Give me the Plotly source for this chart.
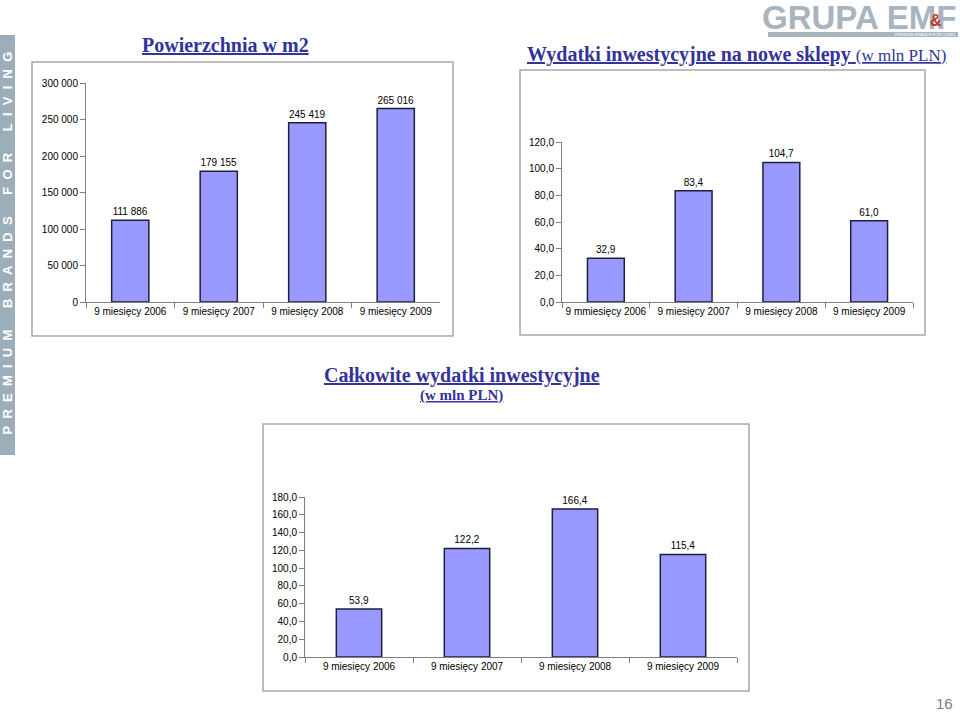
import plotly.graph_objects as go

W, H = 960, 712

# dane
okresy = ["9 miesięcy 2006", "9 miesięcy 2007", "9 miesięcy 2008", "9 miesięcy 2009"]
okresy_sklepy = ["9 mmiesięcy 2006", "9 miesięcy 2007", "9 miesięcy 2008", "9 miesięcy 2009"]
powierzchnia = [111886, 179155, 245419, 265016]
wydatki_sklepy = [32.9, 83.4, 104.7, 61.0]
wydatki_calkowite = [53.9, 122.2, 166.4, 115.4]

BAR_FILL = "#9999FF"
BAR_LINE = "#1F1F40"
TITLE_COL = "#333399"
FONT = "Liberation Sans"


def px_x(x):
    return x / W


def px_y(y):
    return 1 - y / H


fig = go.Figure()

wykresy = [
    # (kategorie, wartości, etykiety, osie, domena x px, domena y px, max, krok, format)
    (okresy, powierzchnia, "%{y:,.0f}", "x", "y", (86, 440), (302, 83), 300000, 50000, ",.0f"),
    (okresy_sklepy, wydatki_sklepy, "%{y:.1f}", "x2", "y2", (562, 913), (302, 142), 120, 20, ".1f"),
    (okresy, wydatki_calkowite, "%{y:.1f}", "x3", "y3", (305, 737), (657, 497), 180, 20, ".1f"),
]

for i, (kat, vals, tmpl, xa, ya, dx, dy, ymax, dtick, fmt) in enumerate(wykresy):
    fig.add_trace(go.Bar(
        x=kat, y=vals, xaxis=xa, yaxis=ya, width=0.42,
        marker=dict(color=BAR_FILL, line=dict(color=BAR_LINE, width=1.5)),
        texttemplate=tmpl, textposition="outside", cliponaxis=False,
        textfont=dict(family=FONT, size=10, color="#000"),
        hoverinfo="skip", showlegend=False,
    ))
    sfx = "" if i == 0 else str(i + 1)
    fig.layout["xaxis" + sfx] = dict(
        domain=[px_x(dx[0]), px_x(dx[1])], anchor="y" + sfx,
        showline=True, linecolor="#808080", linewidth=1,
        ticks="outside", tickson="boundaries", ticklen=5, tickcolor="#808080",
        tickfont=dict(family=FONT, size=10, color="#000"), tickangle=0,
        showgrid=False, fixedrange=True, automargin=False,
    )
    fig.layout["yaxis" + sfx] = dict(
        domain=[px_y(dy[0]), px_y(dy[1])], anchor="x" + sfx,
        range=[0, ymax], dtick=dtick, tickformat=fmt,
        showline=True, linecolor="#808080", linewidth=1,
        ticks="outside", ticklen=5, tickcolor="#808080",
        tickfont=dict(family=FONT, size=10, color="#000"),
        showgrid=False, zeroline=False, fixedrange=True, automargin=False,
    )

# ramki wykresów
for x0, y0, x1, y1 in [(32, 62, 453, 336), (520, 70, 925, 335), (263, 424, 749, 691)]:
    fig.add_shape(type="rect", xref="paper", yref="paper",
                  x0=px_x(x0), y0=px_y(y1), x1=px_x(x1), y1=px_y(y0),
                  line=dict(color="#A8A8A8", width=1.5), fillcolor="rgba(0,0,0,0)",
                  layer="below")

# tytuły
def tytul(x, y, text, size):
    fig.add_annotation(xref="paper", yref="paper", x=px_x(x), y=px_y(y),
                       text=text, showarrow=False, xanchor="center", yanchor="middle",
                       font=dict(family="Liberation Serif", size=size, color=TITLE_COL))

tytul(225, 45, "<u><b>Powierzchnia w m2</b></u>", 20)
tytul(736, 54, "<u><b>Wydatki inwestycyjne na nowe sklepy</b> <span style='font-size:17px'>(w mln PLN)</span></u>", 20)
tytul(462, 375, "<u><b>Całkowite wydatki inwestycyjne</b></u>", 20)
tytul(461, 395, "<u><b>(w mln PLN)</b></u>", 15)

# pasek boczny
fig.add_shape(type="rect", xref="paper", yref="paper",
              x0=0, x1=px_x(15), y0=px_y(455), y1=px_y(35),
              line=dict(width=0), fillcolor="#9DAEBB", layer="below")
sp = "\u00a0\u00a0"
napis = ("\u00a0" * 6).join(sp.join(w) for w in ["PREMIUM", "BRANDS", "FOR", "LIVING"])
fig.add_annotation(xref="paper", yref="paper", x=px_x(7.5), y=px_y(243),
                   text="<b>" + napis + "</b>", textangle=-90, showarrow=False,
                   xanchor="center", yanchor="middle",
                   font=dict(family=FONT, size=13, color="white"))

# logo
fig.add_annotation(xref="paper", yref="paper", x=px_x(958), y=px_y(-3),
                   text="<b>GRUPA EMF</b>", showarrow=False, xanchor="right", yanchor="top",
                   font=dict(family=FONT, size=33, color="#AAB4BE"))
fig.add_annotation(xref="paper", yref="paper", x=px_x(936), y=px_y(21),
                   text="<b>&amp;</b>", showarrow=False, xanchor="center", yanchor="middle",
                   font=dict(family=FONT, size=16, color="#C0392B"))
fig.add_shape(type="rect", xref="paper", yref="paper",
              x0=px_x(768), x1=px_x(958), y0=px_y(37), y1=px_y(32),
              line=dict(width=0), fillcolor="#AAB4BE")
fig.add_annotation(xref="paper", yref="paper", x=px_x(957), y=px_y(34.5),
                   text="PREMIUM BRANDS FOR LIVING", showarrow=False, xanchor="right", yanchor="middle",
                   font=dict(family=FONT, size=4, color="white"))

# numer strony
fig.add_annotation(xref="paper", yref="paper", x=px_x(944), y=px_y(703),
                   text="16", showarrow=False, xanchor="center", yanchor="middle",
                   font=dict(family=FONT, size=15, color="#808080"))

fig.update_layout(
    width=W, height=H, margin=dict(l=0, r=0, t=0, b=0, autoexpand=False),
    paper_bgcolor="white", plot_bgcolor="white",
    separators=", ", bargap=0.58,
)

# strona bez marginesu, żeby wykres zaczynał się w (0, 0)
fig.write_html("out.html", config={"displayModeBar": False, "staticPlot": True},
               post_script="document.body.style.margin='0';")
